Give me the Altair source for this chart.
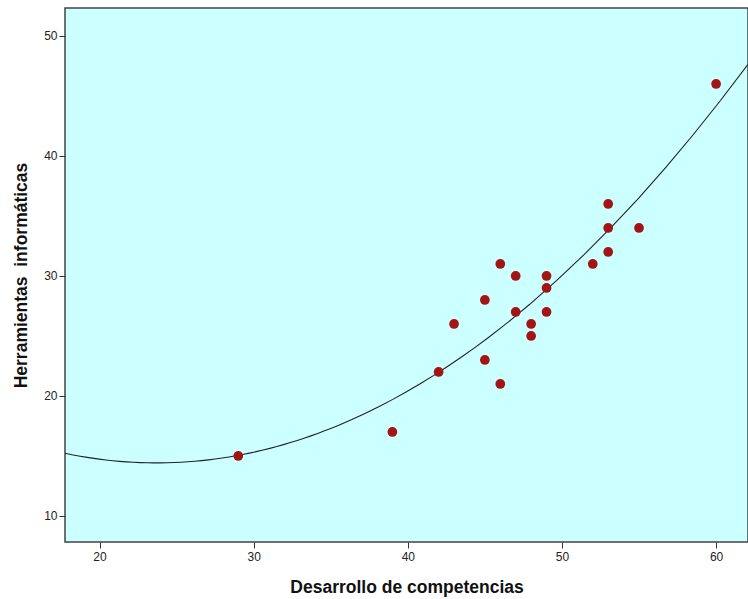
import altair as alt
import pandas as pd

desarrollo = [29, 39, 42, 43, 45, 45, 46, 46, 47, 47, 48, 48, 49, 49, 49, 52, 53, 53, 53, 55, 60]
herramientas = [15, 17, 22, 26, 28, 23, 31, 21, 30, 27, 26, 25, 30, 29, 27, 31, 36, 34, 32, 34, 46]
x_ticks = [20, 30, 40, 50, 60]
y_ticks = [10, 20, 30, 40, 50]

df = pd.DataFrame({"x": desarrollo, "y": herramientas})

xdom = [17.76, 62.07]
ydom = [7.83, 52.33]

xs = alt.Scale(domain=xdom, nice=False, zero=False)
ys = alt.Scale(domain=ydom, nice=False, zero=False)

font = "Liberation Sans"

xaxis = alt.Axis(values=x_ticks, title="Desarrollo de competencias", grid=False,
                 labelFont=font, labelFontSize=12, labelColor="#222222",
                 titleFont=font, titleFontSize=17.5, titleFontWeight="bold", titleColor="#111111",
                 titlePadding=16, tickSize=6, tickColor="#333333", domain=False, labelPadding=3)
yaxis = alt.Axis(values=y_ticks, title="Herramientas\u00a0 informáticas", grid=False,
                 labelFont=font, labelFontSize=12, labelColor="#222222",
                 titleFont=font, titleFontSize=17.5, titleFontWeight="bold", titleColor="#111111",
                 titlePadding=13, tickSize=6, tickColor="#333333", domain=False, labelPadding=2)

pts = alt.Chart(df).mark_circle(size=95, color="#A31515", opacity=1).encode(
    x=alt.X("x:Q", scale=xs, axis=xaxis),
    y=alt.Y("y:Q", scale=ys, axis=yaxis),
)

fit = alt.Chart(df).transform_regression(
    "x", "y", method="poly", order=2, extent=xdom
).mark_line(color="#222222", strokeWidth=1.1, clip=True).encode(
    x=alt.X("x:Q", scale=xs),
    y=alt.Y("y:Q", scale=ys),
)

chart = alt.layer(fit, pts).properties(
    width=683, height=534,
    padding={"left": 65, "top": 8, "right": 0, "bottom": 57},
    autosize=alt.AutoSizeParams(type="none"),
    background="white",
).configure_view(
    fill="#CCFFFF", stroke="#444444", strokeWidth=1.5
)

chart.save("out.html", embed_options={"renderer": "svg", "actions": False})
